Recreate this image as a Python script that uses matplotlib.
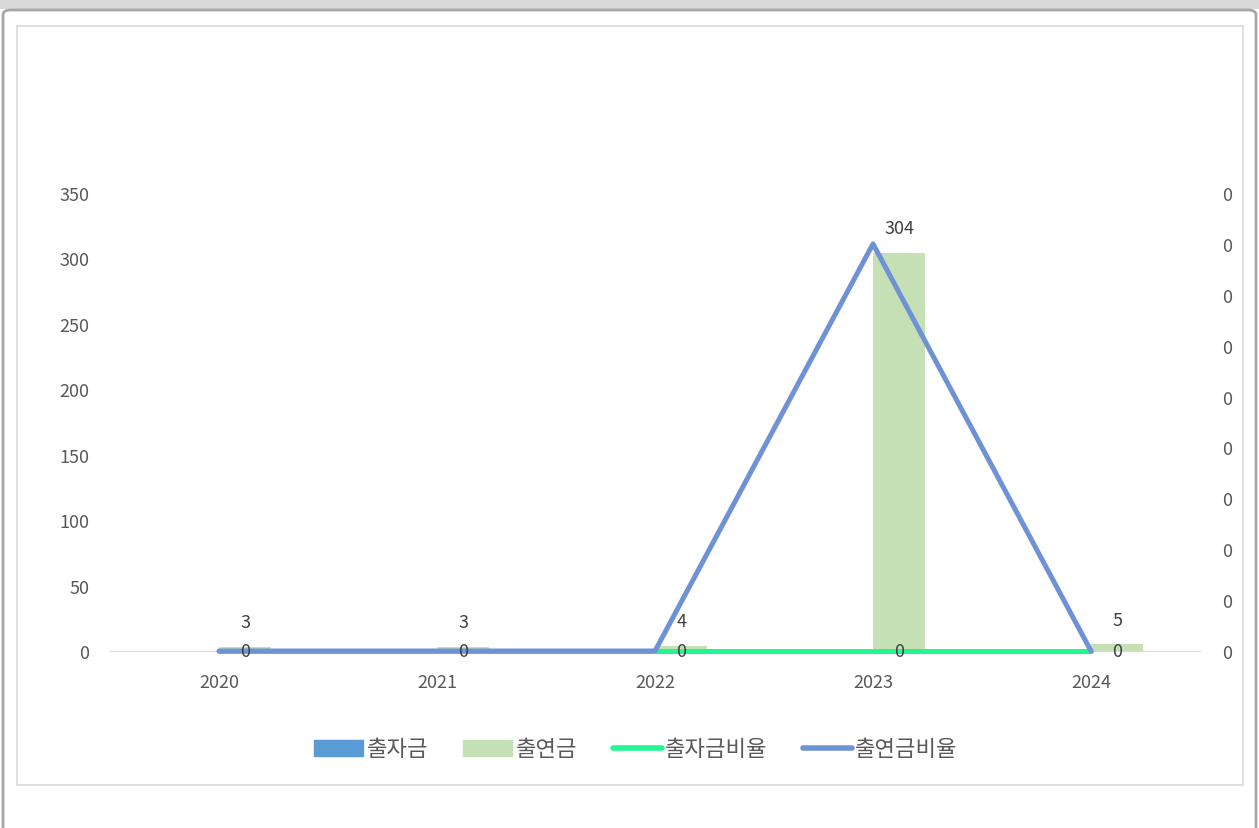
import numpy as np
import matplotlib.pyplot as plt
from matplotlib.patches import Rectangle, FancyBboxPatch
from matplotlib.lines import Line2D

plt.rcParams['font.family'] = ['Noto Sans CJK KR', 'DejaVu Sans']

years = ['2020', '2021', '2022', '2023', '2024']
invest = [0, 0, 0, 0, 0]            # 출자금
contrib = [3, 3, 4, 304, 5]         # 출연금
invest_ratio = [0, 0, 0, 0, 0]      # 출자금비율
contrib_ratio = [0, 0, 0, 0.008, 0] # 출연금비율

c_invest = '#5B9BD5'
c_contrib = '#C5E0B4'
c_inv_ratio = '#22F592'
c_con_ratio = '#6F92D6'
tick_col = '#595959'

W, H = 1259, 829
fig = plt.figure(figsize=(W / 100, H / 100), dpi=100)

# outer frame and inner chart border
fig.patches.append(Rectangle((0, 1 - 10 / H), 1, 10 / H, transform=fig.transFigure,
                             facecolor='#DADADA', edgecolor='none', zorder=0))
fig.patches.append(FancyBboxPatch((3 / W, -0.02), (W - 6) / W, (H - 11) / H + 0.02,
                                  boxstyle='round,pad=0,rounding_size=0.006',
                                  transform=fig.transFigure, facecolor='white',
                                  edgecolor='#A6A6A6', linewidth=2, zorder=1))
fig.patches.append(Rectangle((17 / W, (H - 786) / H), (1243 - 17) / W, (786 - 27) / H,
                             transform=fig.transFigure, facecolor='white',
                             edgecolor='#D9D9D9', linewidth=1.2, zorder=2))

ax = fig.add_axes([110 / W, (H - 652) / H, (1200 - 110) / W, (652 - 194) / H])
ax.set_zorder(3)
ax.patch.set_visible(False)
x = np.arange(len(years))
bw = 0.24

ax.bar(x - bw / 2, invest, bw, color=c_invest, label='출자금')
ax.bar(x + bw / 2, contrib, bw, color=c_contrib, label='출연금')

ax.set_xlim(-0.5, len(years) - 0.5)
ax.set_ylim(0, 350)
ax.set_yticks(np.arange(0, 351, 50))
ax.set_xticks(x)
ax.set_xticklabels(years)
for s in ['left', 'right', 'top']:
    ax.spines[s].set_visible(False)
ax.spines['bottom'].set_color('#D9D9D9')
ax.tick_params(axis='both', length=0, colors=tick_col, labelsize=13)
ax.tick_params(axis='y', pad=15)
ax.tick_params(axis='x', pad=16)

ax2 = ax.twinx()
ax2.plot(x, invest_ratio, color=c_inv_ratio, linewidth=3.6, solid_capstyle='round',
         clip_on=False, label='출자금비율')
ax2.plot(x, contrib_ratio, color=c_con_ratio, linewidth=3.6, solid_capstyle='round',
         clip_on=False, label='출연금비율')
ax2.set_ylim(0, 0.009)
ax2.set_yticks(np.arange(0, 0.0091, 0.001))
ax2.set_yticklabels(['0'] * 10)
for s in ['left', 'right', 'top', 'bottom']:
    ax2.spines[s].set_visible(False)
ax2.tick_params(axis='y', length=0, colors=tick_col, labelsize=13, pad=16)

# data labels drawn on top of the lines
for i, v in enumerate(contrib):
    ax2.text(x[i] + bw / 2, v + 12, str(v), transform=ax.transData, ha='center', va='bottom',
             fontsize=13, color='#404040', zorder=10)
    ax2.text(x[i] + bw / 2, invest[i], '0', transform=ax.transData, ha='center', va='center',
             fontsize=13, color='#404040', zorder=10)

handles = [Rectangle((0, 0), 1, 1, color=c_invest), Rectangle((0, 0), 1, 1, color=c_contrib),
           Line2D([], [], color=c_inv_ratio, linewidth=4, solid_capstyle='round'),
           Line2D([], [], color=c_con_ratio, linewidth=4, solid_capstyle='round')]
labels = ['출자금', '출연금', '출자금비율', '출연금비율']
fig.legend(handles, labels, loc='center', bbox_to_anchor=(636 / W, (H - 750) / H), ncol=4,
           frameon=False, fontsize=16, handlelength=2.2, handleheight=0.7,
           handletextpad=0.15, columnspacing=1.6, labelcolor=tick_col)

fig.savefig('out.png', dpi=100)
